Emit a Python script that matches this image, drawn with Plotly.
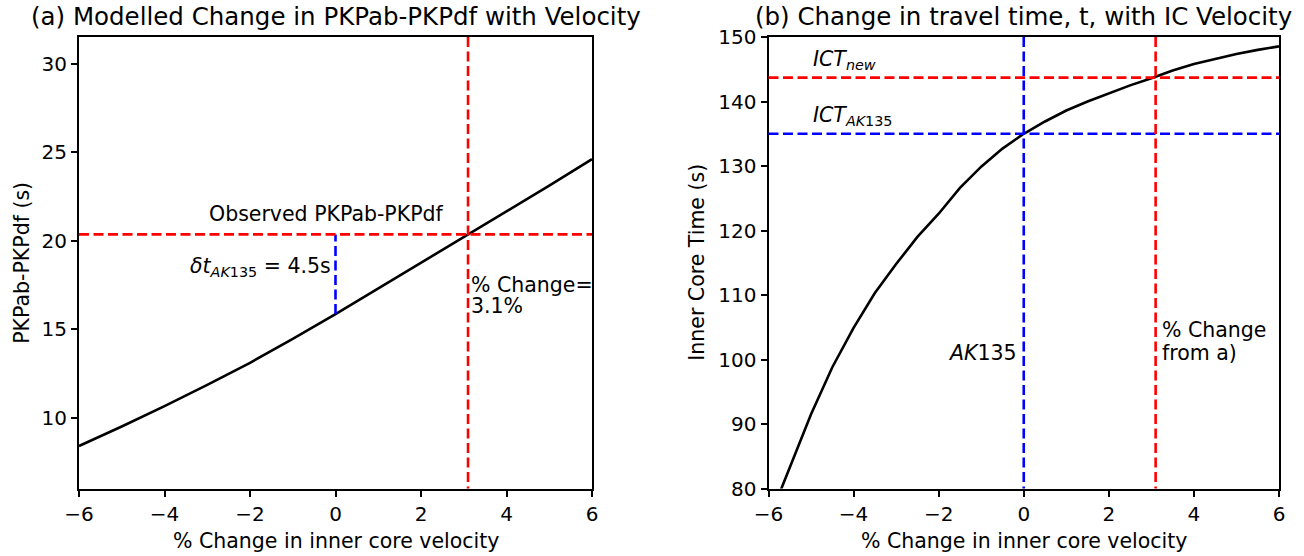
import plotly.graph_objects as go

# ---- panel (a): modelled PKPab-PKPdf differential time vs inner-core velocity change
dv_a = [-6, -5, -4, -3, -2, -1, 0, 1, 2, 3, 4, 5, 6]
dt_a = [8.4, 9.5, 10.65, 11.85, 13.1, 14.45, 15.85, 17.3, 18.75, 20.2, 21.65, 23.1, 24.6]
observed_dt = 20.35      # observed PKPab-PKPdf (s)
ak135_dt = 15.85         # AK135 prediction (s)
ak135_dv = 0.0           # AK135 reference velocity (% change)
pct_change = 3.1         # velocity change matching the observation (%)

# ---- panel (b): inner-core travel time vs velocity change
dv_b = [-6, -5.5, -5, -4.5, -4, -3.5, -3, -2.5, -2, -1.5, -1, -0.5, 0,
        0.5, 1, 1.5, 2, 2.5, 3, 3.5, 4, 4.5, 5, 5.5, 6]
ict_b = [75.0, 83.3, 91.5, 98.8, 104.9, 110.3, 114.8, 119.0, 122.6, 126.6, 129.9, 132.7, 135.0,
         136.9, 138.6, 140.0, 141.3, 142.5, 143.6, 144.8, 145.8, 146.6, 147.35, 148.0, 148.55]
ict_ak135 = 135.0
ict_new = 143.7

# ---- axis ticks / ranges
x_ticks = [-6, -4, -2, 0, 2, 4, 6]
ya_ticks = [10, 15, 20, 25, 30]
yb_ticks = [80, 90, 100, 110, 120, 130, 140, 150]
x_range = [-6, 6]
ya_range = [6.0, 31.5]
yb_range = [80, 150]

titles = ["(a) Modelled Change in PKPab-PKPdf with Velocity",
          "(b) Change in travel time, t, with IC Velocity"]
x_label = "% Change in inner core velocity"
ya_label = "PKPab-PKPdf (s)"
yb_label = "Inner Core Time (s)"

# ---- geometry (pixels)
W, H = 1304, 556
TOP, BOT = 37, 488.5
A_L, A_R = 79, 592
B_L, B_R = 768.5, 1279

FONT = "DejaVu Sans"
RED, BLUE, BLACK = "#ff0000", "#0000ff", "#000000"
LW = 2.6
DASH = "10px,4.5px"

fig = go.Figure()

fig.add_trace(go.Scatter(x=dv_a, y=dt_a, mode="lines", line=dict(color=BLACK, width=LW),
                         xaxis="x", yaxis="y", showlegend=False, hoverinfo="skip"))
fig.add_trace(go.Scatter(x=[ak135_dv, ak135_dv], y=[ak135_dt, observed_dt], mode="lines",
                         line=dict(color=BLUE, width=LW, dash=DASH),
                         xaxis="x", yaxis="y", showlegend=False, hoverinfo="skip"))
fig.add_trace(go.Scatter(x=dv_b, y=ict_b, mode="lines", line=dict(color=BLACK, width=LW),
                         xaxis="x2", yaxis="y2", showlegend=False, hoverinfo="skip"))

shapes = []
def hline(y, yref, xdom, color):
    shapes.append(dict(type="line", xref=xdom, yref=yref, x0=0, x1=1, y0=y, y1=y,
                       line=dict(color=color, width=LW, dash=DASH), layer="above"))
def vline(x, xref, ydom, color):
    shapes.append(dict(type="line", xref=xref, yref=ydom, x0=x, x1=x, y0=1, y1=0,
                       line=dict(color=color, width=LW, dash=DASH), layer="above"))

hline(observed_dt, "y", "x domain", RED)
vline(pct_change, "x", "y domain", RED)
hline(ict_new, "y2", "x2 domain", RED)
hline(ict_ak135, "y2", "x2 domain", BLUE)
vline(ak135_dv, "x2", "y2 domain", BLUE)
vline(pct_change, "x2", "y2 domain", RED)

def axis_style(domain, rng, ticks, anchor):
    return dict(domain=domain, range=rng, tickvals=ticks, anchor=anchor, automargin=False,
                showline=True, linecolor=BLACK, linewidth=2, mirror=True,
                ticks="outside", ticklen=6, tickwidth=1.8, tickcolor=BLACK,
                showgrid=False, zeroline=False, fixedrange=True,
                tickfont=dict(family=FONT, size=20, color=BLACK))

ydom = [1 - BOT / H, 1 - TOP / H]
fig.update_layout(
    width=W, height=H, margin=dict(l=0, r=0, t=0, b=0, autoexpand=False),
    paper_bgcolor="white", plot_bgcolor="white",
    xaxis=axis_style([A_L / W, A_R / W], x_range, x_ticks, "y"),
    yaxis=axis_style(ydom, ya_range, ya_ticks, "x"),
    xaxis2=axis_style([B_L / W, B_R / W], x_range, x_ticks, "y2"),
    yaxis2=axis_style(ydom, yb_range, yb_ticks, "x2"),
    shapes=shapes,
    showlegend=False,
)

ann = []
def text(x, y, s, size=20.5, xref="paper", yref="paper", xa="center", ya="middle",
         angle=0, xshift=0, yshift=0):
    ann.append(dict(x=x, y=y, xref=xref, yref=yref, text=s, showarrow=False,
                    xanchor=xa, yanchor=ya, textangle=angle, xshift=xshift, yshift=yshift,
                    font=dict(family=FONT, size=size, color=BLACK)))

# titles and axis labels
text((A_L + A_R) / 2 / W, 1 - 16 / H, titles[0], size=24.5)
text((B_L + B_R) / 2 / W, 1 - 16 / H, titles[1], size=24.5)
text((A_L + A_R) / 2 / W, 1 - 541 / H, x_label)
text((B_L + B_R) / 2 / W, 1 - 541 / H, x_label)
text(22 / W, 1 - (TOP + BOT) / 2 / H, ya_label, angle=-90)
text(697 / W, 1 - (TOP + BOT) / 2 / H, yb_label, angle=-90)

# panel (a) labels
text(-3.0, observed_dt, "Observed PKPab-PKPdf", xref="x", yref="y", xa="left", ya="bottom", yshift=6)
text(ak135_dv, 18.5, "<i>δt</i><sub><i>AK</i>135</sub> = 4.5s", xref="x", yref="y",
     xa="right", xshift=-3)
text(pct_change, 17.5, "% Change=", xref="x", yref="y", xa="left", xshift=1)
text(pct_change, 16.3, f"{pct_change}%", xref="x", yref="y", xa="left", xshift=1)

# panel (b) labels
text(-5.0, ict_new, "<i>ICT</i><sub><i>new</i></sub>", xref="x2", yref="y2", xa="left", ya="bottom", yshift=3)
text(-5.0, ict_ak135, "<i>ICT</i><sub><i>AK</i>135</sub>", xref="x2", yref="y2", xa="left", ya="bottom", yshift=3)
text(ak135_dv, 101.0, "<i>AK</i>135", xref="x2", yref="y2", xa="right", xshift=-5)
text(pct_change, 104.5, "% Change", xref="x2", yref="y2", xa="left", xshift=4)
text(pct_change, 101.0, "from a)", xref="x2", yref="y2", xa="left", xshift=4)

fig.update_layout(annotations=ann)
fig.write_html("out.html")
